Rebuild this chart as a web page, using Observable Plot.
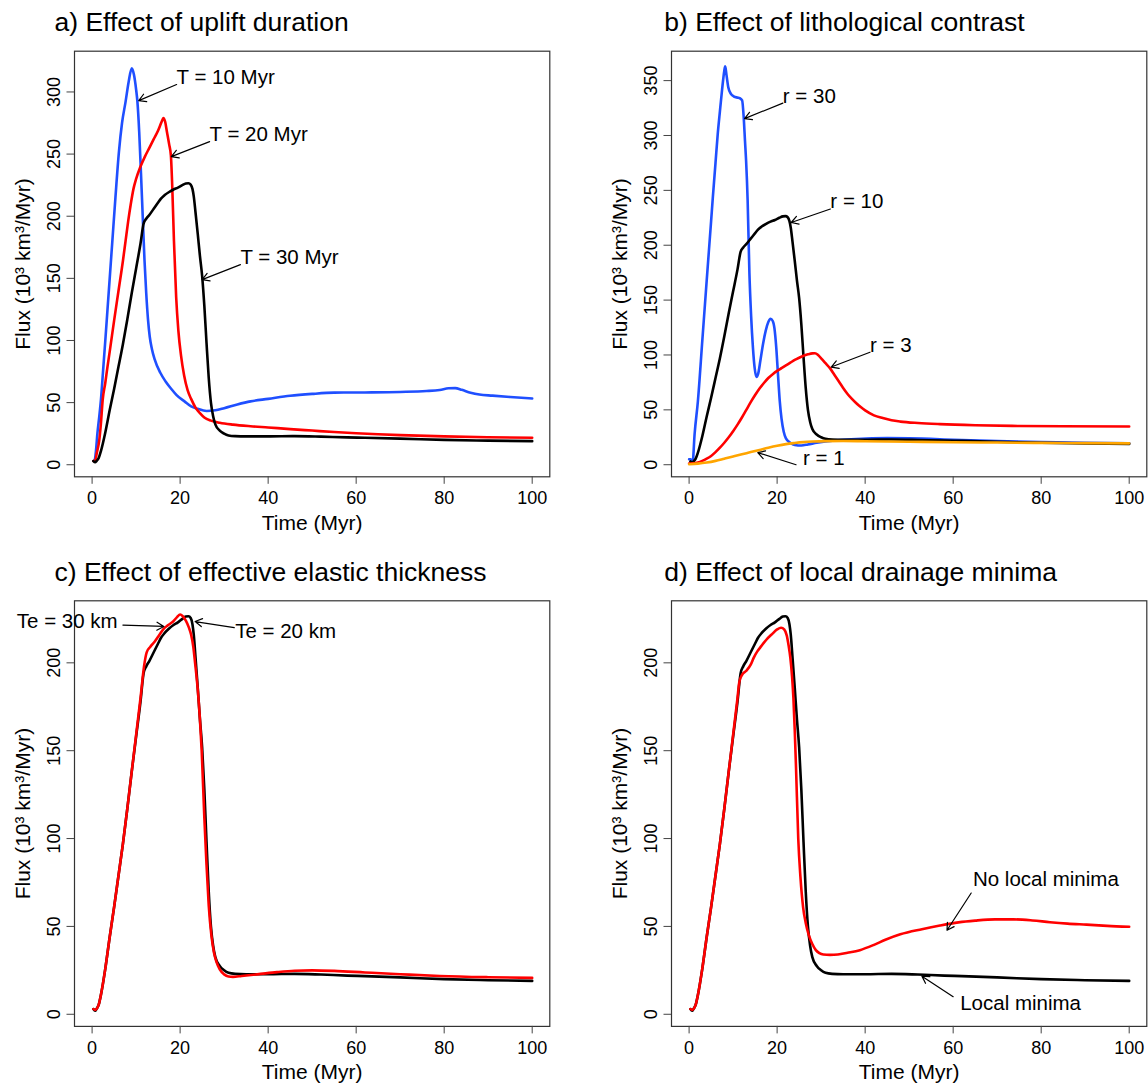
<!DOCTYPE html>
<html><head><meta charset="utf-8">
<script src="https://cdn.jsdelivr.net/npm/d3@7"></script>
<script src="https://cdn.jsdelivr.net/npm/@observablehq/plot@0.6"></script>
<style>
body{margin:0;background:#fff;}
#wrap{position:relative;width:1148px;height:1086px;background:#fff;}
.panel{position:absolute;}
</style></head><body><div id="wrap"></div>
<script>
// ---------- data (time in Myr, flux in 10^3 km^3/Myr) ----------
const xTicks = [0, 20, 40, 60, 80, 100];
const yTicksA = [0, 50, 100, 150, 200, 250, 300];
const yTicksB = [0, 50, 100, 150, 200, 250, 300, 350];
const yTicksCD = [0, 50, 100, 150, 200];

// reference run (black in every panel: T = 30 Myr, r = 10, Te = 20 km, local minima)
const referenceRun = [[0.3,3],[0.7,2],[1,3],[1.5,5.5],[2,11],[3,26],[4,44],[5,61],[6,79],[7,97],[8,117],[9,138],[10,158],[11,178],[11.7,194],[12.3,198],[13,201],[14,206],[15,211],[15.6,214],[16.5,217],[17.5,219.5],[18.5,221.5],[19.5,223],[20.5,225],[21.3,226.3],[21.9,226.5],[22.4,225.5],[22.8,222],[23.1,216],[23.5,203],[24,186],[24.5,168],[25,152],[25.5,128],[26,98],[26.5,70],[27,50],[27.5,39],[28,32.5],[29,27.5],[30,25],[31,23.6],[32.5,23],[35,22.8],[40,22.8],[46,23],[52,22.6],[58,22],[62,21.7],[70,21],[80,20],[90,19.4],[100,19]];

// a) uplift duration
const upliftT10 = [[0.3,3],[0.6,4],[0.9,12],[1.2,25],[1.6,38],[2,52],[2.5,76],[3,100],[3.5,125],[4,150],[4.6,180],[5.3,215],[6.1,252],[6.8,275],[7.6,292],[8.3,308],[9,319],[9.5,314],[10,302],[10.3,292],[10.7,268],[11.1,235],[11.5,200],[11.9,165],[12.3,138],[12.7,117],[13.1,103],[13.6,93],[14.2,85],[15.5,74],[16.7,67],[18,61],[19.2,56],[21,51],[22.5,47],[24,45],[26,43.3],[28,43.8],[30,45.5],[33,48.5],[36,51],[40,53],[45,55.5],[50,57],[55,58],[62,58.2],[70,58.6],[76,59.3],[79,60.2],[81,61.5],[82.5,61.7],[84,60.3],[86,58],[88,56.5],[91,55.6],[95,54.5],[100,53.3]];
const upliftT20 = [[0.3,3],[0.7,3.5],[1.1,10],[1.6,19],[2,33],[2.4,52],[3,66],[3.5,79],[4,91],[5,116],[6,140],[7,164],[7.6,180],[8.2,196],[8.8,210],[9.4,222],[10,230],[11,240],[12,248],[13,255],[14,262],[15,269],[15.8,276],[16.2,279],[16.6,276],[17,268],[17.5,258],[17.9,249],[18.2,225],[18.6,180],[19.1,135],[19.6,108],[20.2,88],[20.9,72],[21.7,60],[22.5,53],[23.5,46],[24.5,41.5],[25.5,38],[27,35.5],[29,33.8],[32,32.3],[36,31],[40,30],[45,28.7],[50,27.5],[55,26.3],[60,25.3],[65,24.5],[70,23.8],[80,22.8],[90,22.1],[100,21.7]];

// b) lithological contrast
const contrastR30 = [[0,5],[0.4,5],[0.8,2],[1.25,28],[2,58],[3,113],[4,168],[5,222],[5.4,244],[6,275],[6.5,301],[7,322],[7.5,342],[8,359],[8.2,363],[8.5,355],[8.9,344],[9.5,338],[10.2,335.5],[11,334.5],[11.5,334],[12.05,332],[12.4,317],[12.7,295],[12.95,277],[13.3,241],[13.7,175],[14.1,135],[14.5,107],[14.9,88],[15.3,80],[15.7,83],[16.2,95],[16.8,110],[17.4,122],[18,130],[18.5,133],[19,131],[19.4,124],[19.8,107],[20.2,82],[20.6,58],[21,42],[21.5,30],[22,24],[23,20],[24,18],[25.5,17.5],[27,18.5],[29,20],[31,21.3],[34,22.5],[38,23.5],[45,24.2],[50,24],[60,22.8],[70,21.5],[80,20.6],[90,20],[100,19.6]];
const contrastR3 = [[0,1],[1,1.2],[2,2],[3,3.5],[4,5.5],[5,8],[6,11.5],[7,15.5],[8,20],[9,25],[10,30.5],[11,36.5],[12,43],[13,50],[14,57],[15,63.5],[16,69.5],[17,74.5],[18,79],[19,82.5],[20,85.5],[21,88],[22,90.5],[23,93],[24,95.5],[25,97.5],[26,99.3],[27,100.6],[28,101.5],[28.6,101.6],[29.3,100],[30,97],[31,92.5],[32,88],[33,82],[34,76],[35,70],[36,64.5],[37,60],[38,56],[39,52.5],[40,49.5],[42,45],[44,42.5],[46,40.5],[48,39.3],[52,38],[57,37],[65,36],[75,35.3],[85,35],[100,34.8]];
const contrastR1 = [[0,0.5],[2,1],[4,2],[6,3.5],[8,5.5],[10,7.5],[12,9.5],[14,11.5],[16,13.5],[18,15.5],[20,17.3],[22,18.8],[24,19.8],[26,20.6],[28,21.1],[31,21.5],[35,21.6],[40,21.4],[50,21],[60,20.5],[70,20.2],[80,19.9],[90,19.7],[100,19.5]];

// c) effective elastic thickness
const elasticTe30 = [[0.3,3],[0.7,2.5],[1,3],[1.5,5.5],[2,11],[3,26],[4,44],[5,61],[6,79],[7,97],[8,117],[9,138],[10,159],[11,180],[11.8,198],[12.4,206],[13.2,209],[14.2,212],[15.3,216],[16.3,219.5],[17.3,221.5],[18.4,223.5],[19.3,226],[20,227.5],[20.6,226.5],[21.3,224],[22,220],[22.5,216],[23,209],[23.4,200],[24,185],[24.5,168],[24.9,150],[25.5,112],[26,85],[26.5,62],[27.1,45],[27.7,35],[28.3,29.5],[29,25.5],[30,22.7],[31,21.5],[32,21.3],[34,21.8],[37.5,22.7],[42,24],[46,24.8],[50,25],[55,24.7],[62,23.8],[70,22.8],[79,21.8],[90,21.1],[100,20.7]];

// d) local drainage minima
const noLocalMinima = [[0.3,3],[0.7,2.5],[1,3],[1.5,5.5],[2,11],[3,26],[4,44],[5,61],[6,79],[7,97],[8,117],[9,138],[10,159],[11,180],[11.4,189],[12,193],[13,195.5],[14,199],[14.7,203],[15.5,206.5],[16.4,209.5],[17.5,213],[18.9,216.5],[20,219],[20.9,220],[21.6,219],[22.2,215.5],[22.6,210],[23,203],[23.4,192],[23.7,180],[24,162],[24.3,140],[24.8,100],[25.3,78],[25.9,61],[26.5,52],[27.2,45],[28,40],[28.8,36.5],[29.6,34.8],[30.5,34],[32,33.8],[33.8,34],[36,35],[38.8,36.5],[42,39.5],[44.6,42.4],[48,45.5],[52.9,48.4],[57,50.5],[61.2,52.3],[65,53.3],[69.5,54],[73.7,54],[78,53.4],[82,52.4],[86,51.6],[90.3,51],[95,50.3],[100,49.8]];

// annotations (text anchor point and arrow tail -> head, data coordinates)
const notesA = [
  {label: "T = 10 Myr", tx: 19.2, ty: 312, x1: 19.2, y1: 306, x2: 10.6, y2: 293},
  {label: "T = 20 Myr", tx: 26.7, ty: 266, x1: 26.7, y1: 260, x2: 18.0, y2: 248},
  {label: "T = 30 Myr", tx: 33.7, ty: 167, x1: 33.7, y1: 161, x2: 25.0, y2: 149}
];
const notesB = [
  {label: "r = 30", tx: 21.3, ty: 336, x1: 21.3, y1: 329.5, x2: 12.6, y2: 315.4},
  {label: "r = 10", tx: 32.1, ty: 240, x1: 32.1, y1: 233, x2: 23.2, y2: 220.7},
  {label: "r = 3", tx: 41.1, ty: 109, x1: 41.1, y1: 102.5, x2: 32.3, y2: 89},
  {label: "r = 1", tx: 25.9, ty: 5.7, x1: 24.3, y1: 0, x2: 15.6, y2: 11}
];
const notesC = [
  {label: "Te = 30 km", tx: -17.1, ty: 223.5, x1: 7.0, y1: 221.5, x2: 16.3, y2: 220.7},
  {label: "Te = 20 km", tx: 32.5, ty: 217.6, x1: 32.3, y1: 220, x2: 23.4, y2: 223.5}
];
const notesD = [
  {label: "No local minima", tx: 64.5, ty: 77, x1: 64.1, y1: 69, x2: 58.6, y2: 47.8},
  {label: "Local minima", tx: 61.6, ty: 6, x1: 60, y1: 10, x2: 52.9, y2: 21.7}
];

const titles = ["a) Effect of uplift duration", "b) Effect of lithological contrast",
                "c) Effect of effective elastic thickness", "d) Effect of local drainage minima"];
const xLabel = "Time (Myr)";
const yLabel = "Flux (10³ km³/Myr)";

// ---------- drawing ----------
const FONT = "'Liberation Sans', Arial, Helvetica, sans-serif";
const BLUE = "#1f4fff", RED = "#ff0000", ORANGE = "#ffa500", BLACK = "#000000";

function panel(cfg) {
  const el = Plot.plot({
    width: 574, height: 543,
    marginLeft: cfg.ml, marginRight: cfg.mr, marginTop: cfg.mt, marginBottom: cfg.mb,
    x: {domain: [-4, 104]},
    y: {domain: cfg.yDomain},
    style: {fontFamily: FONT, fontSize: "18px", background: "white", overflow: "visible", color: "black"},
    marks: [
      ...cfg.series.map(s => Plot.line(s.data, {x: d => d[0], y: d => d[1], stroke: s.color, strokeWidth: 2.6, curve: "monotone-x", strokeLinejoin: "round"})),
      Plot.frame({stroke: "#333", strokeWidth: 1.2}),
      Plot.axisX({ticks: xTicks, tickSize: 7.5, tickPadding: 7, fontSize: 18, label: null, stroke: "#444"}),
      Plot.axisY({ticks: cfg.yTicks, tickSize: 7.5, fill: "none", label: null, stroke: "#444"}),
      Plot.text(cfg.yTicks, {y: d => d, frameAnchor: "left", text: d => String(d), rotate: -90, dx: -20.5, textAnchor: "middle", lineAnchor: "middle", fontSize: 18}),
      Plot.text([xLabel], {frameAnchor: "bottom", text: d => d, dy: 46, lineAnchor: "middle", fontSize: 21}),
      Plot.text([yLabel], {frameAnchor: "left", text: d => d, rotate: -90, dx: -51, textAnchor: "middle", lineAnchor: "middle", fontSize: 21}),
      Plot.text([cfg.title], {frameAnchor: "top-left", text: d => d, dx: cfg.titleDx, dy: -20, textAnchor: "start", lineAnchor: "bottom", fontSize: 26.5}),
      Plot.arrow(cfg.notes, {x1: "x1", y1: "y1", x2: "x2", y2: "y2", stroke: "black", strokeWidth: 1.2, headLength: 10, bend: 0}),
      Plot.text(cfg.notes, {x: "tx", y: "ty", text: "label", textAnchor: "start", lineAnchor: "middle", fontSize: 20.5})
    ]
  });
  el.classList.add("panel");
  el.style.left = cfg.left + "px";
  el.style.top = cfg.top + "px";
  document.getElementById("wrap").appendChild(el);
}

panel({left: 0, top: 0, ml: 74, mr: 24.7, mt: 50.7, mb: 66.7, yDomain: [-9.7, 332.8], yTicks: yTicksA,
  title: titles[0], titleDx: -20, notes: notesA,
  series: [{data: upliftT10, color: BLUE}, {data: upliftT20, color: RED}, {data: referenceRun, color: BLACK}]});
panel({left: 574, top: 0, ml: 97, mr: 1.7, mt: 50.7, mb: 66.7, yDomain: [-11.0, 376.8], yTicks: yTicksB,
  title: titles[1], titleDx: -7.3, notes: notesB,
  series: [{data: contrastR30, color: BLUE}, {data: referenceRun, color: BLACK}, {data: contrastR3, color: RED}, {data: contrastR1, color: ORANGE}]});
panel({left: 0, top: 543, ml: 74, mr: 24.7, mt: 57.3, mb: 60.1, yDomain: [-6.9, 235.3], yTicks: yTicksCD,
  title: titles[2], titleDx: -20, notes: notesC,
  series: [{data: referenceRun, color: BLACK}, {data: elasticTe30, color: RED}]});
panel({left: 574, top: 543, ml: 97, mr: 1.7, mt: 57.3, mb: 60.1, yDomain: [-6.9, 235.3], yTicks: yTicksCD,
  title: titles[3], titleDx: -7.3, notes: notesD,
  series: [{data: referenceRun, color: BLACK}, {data: noLocalMinima, color: RED}]});
</script>
</body></html>
